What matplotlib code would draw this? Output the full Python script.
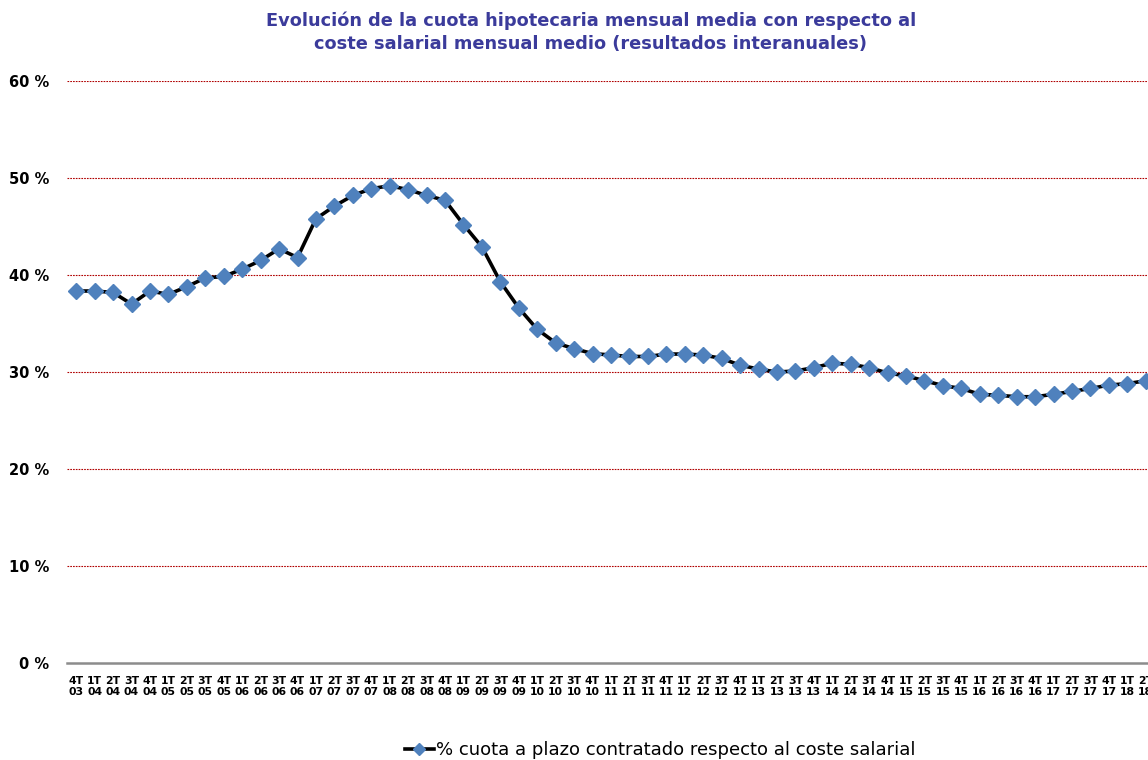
import matplotlib
matplotlib.use("Agg")
import matplotlib.pyplot as plt

quarters = ["4T"] + ["1T", "2T", "3T", "4T"] * 14 + ["1T", "2T"]
years = ["03"] + [f"{y:02d}" for y in range(4, 18) for _ in range(4)] + ["18", "18"]
tick_labels = [f"{q}\n{y}" for q, y in zip(quarters, years)]

values = [38.35, 38.35, 38.2, 37.0, 38.35, 38.0, 38.8, 39.7, 39.85, 40.6,
          41.5, 42.7, 41.8, 45.8, 47.1, 48.2, 48.9, 49.2, 48.8, 48.2,
          47.7, 45.2, 42.9, 39.3, 36.6, 34.4, 33.0, 32.4, 31.9, 31.75,
          31.6, 31.6, 31.85, 31.85, 31.75, 31.4, 30.7, 30.3, 30.0, 30.1,
          30.45, 30.9, 30.8, 30.45, 29.9, 29.6, 29.1, 28.6, 28.3, 27.7,
          27.6, 27.45, 27.45, 27.7, 28.0, 28.3, 28.65, 28.8, 29.1]

y_ticks = [0, 10, 20, 30, 40, 50, 60]
y_tick_labels = [f"{v} %" for v in y_ticks]
series_name = "% cuota a plazo contratado respecto al coste salarial"
title = ("Evolución de la cuota hipotecaria mensual media con respecto al\n"
         "coste salarial mensual medio (resultados interanuales)")

W, H = 1148, 760
fig = plt.figure(figsize=(W / 100, H / 100), dpi=100)
ax = fig.add_axes([67 / W, 97 / H, (1155 - 67) / W, (663 - 81) / H])

x = list(range(len(values)))
line, = ax.plot(x, values, color="black", linewidth=2.6, marker="D",
                markersize=8.5, markerfacecolor="#4F81BD",
                markeredgecolor="#4F81BD", label=series_name, zorder=3)

ax.set_xlim(-0.5, len(values) - 0.5)
ax.set_ylim(0, 60)
ax.set_yticks(y_ticks)
ax.set_yticklabels(y_tick_labels, fontsize=10.5, fontweight="bold",
                   family="DejaVu Sans")
ax.set_xticks(x)
ax.set_xticklabels(tick_labels, fontsize=7.8, fontweight="bold",
                   family="DejaVu Sans", linespacing=1.15)
ax.tick_params(axis="both", length=0)
ax.tick_params(axis="y", pad=13)
ax.tick_params(axis="x", pad=9)

for s in ["top", "right", "left"]:
    ax.spines[s].set_visible(False)
ax.spines["bottom"].set_color("#8c8c8c")
ax.spines["bottom"].set_linewidth(1.8)

for v in y_ticks[1:]:
    ax.axhline(v, color="#B00000", linewidth=0.8, linestyle=(0, (1.5, 1.0)),
               zorder=1)

fig.text(591 / W, 1 - 32 / H, title, ha="center", va="center",
         fontsize=12.8, fontweight="bold", color="#3B3B9B",
         family="DejaVu Sans", linespacing=1.35)

fig.legend(handles=[line], labels=[series_name], loc="center",
           bbox_to_anchor=(660 / W, 1 - 750 / H), frameon=False,
           prop={"family": "DejaVu Sans", "size": 13},
           handlelength=1.6, handletextpad=0.1, markerscale=0.75)

fig.savefig("out.png", dpi=100)
